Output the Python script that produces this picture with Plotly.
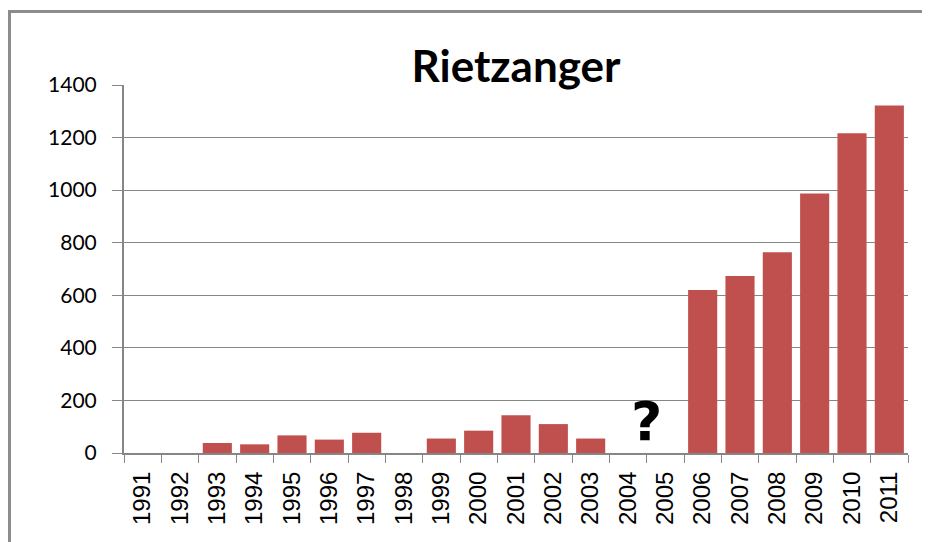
import plotly.graph_objects as go

years = [str(y) for y in range(1991, 2012)]
counts = [0, 0, 38, 33, 67, 51, 77, 0, 55, 85, 144, 110, 55, 0, 0, 620, 673, 764, 987, 1216, 1322]
y_ticks = [0, 200, 400, 600, 800, 1000, 1200, 1400]
title_text = "Rietzanger"
unknown_mark = "?"

W, H = 930, 542
L, R, T, B = 116, 30, 77, 97
pw, ph = W - L - R, H - T - B

def px_x(p):
    return (p - L) / pw

def px_y(p):
    return (H - B - p) / ph

fig = go.Figure()
fig.add_trace(go.Bar(x=years, y=counts, marker=dict(color="#C0504D", line=dict(width=0)),
                     hoverinfo="x+y"))

border = dict(color="#8C8C8C", width=3)

fig.update_layout(
    width=W, height=H,
    margin=dict(l=L, r=R, t=T, b=B, autoexpand=False),
    paper_bgcolor="white", plot_bgcolor="white",
    bargap=0.22,
    showlegend=False,
    title=dict(text="<b>" + title_text + "</b>", x=508 / W, xref="container", xanchor="center",
               y=1 - 58.5 / H, yref="container", yanchor="middle",
               font=dict(family="Lato", size=44, color="black")),
    xaxis=dict(type="category", tickangle=-90, tickson="boundaries", ticks="outside", ticklen=8,
               tickcolor="#868686", showline=True, linecolor="#868686", linewidth=2,
               tickfont=dict(family="Liberation Sans", size=24, color="black"),
               ticklabelstandoff=7,
               showgrid=False, fixedrange=True),
    yaxis=dict(range=[0, 1400], tickvals=y_ticks, ticks="outside", ticklen=10,
               tickcolor="#868686", showline=True, linecolor="#868686", linewidth=2,
               gridcolor="#868686", gridwidth=1, zeroline=False,
               tickfont=dict(family="Lato", size=21, color="black"),
               ticklabelstandoff=11, fixedrange=True),
    shapes=[
        dict(type="line", xref="paper", yref="paper",
             x0=px_x(1.5), x1=px_x(1000), y0=px_y(3.5), y1=px_y(3.5), line=border, layer="above"),
        dict(type="line", xref="paper", yref="paper",
             x0=px_x(1.5), x1=px_x(1.5), y0=px_y(2), y1=px_y(600), line=border, layer="above"),
    ],
    annotations=[dict(text="<b>" + unknown_mark + "</b>", x=13.5, y=118, xref="x", yref="y",
                      yanchor="middle", showarrow=False,
                      font=dict(family="DejaVu Sans", size=54, color="black"))],
)

fig.write_html("out.html")
